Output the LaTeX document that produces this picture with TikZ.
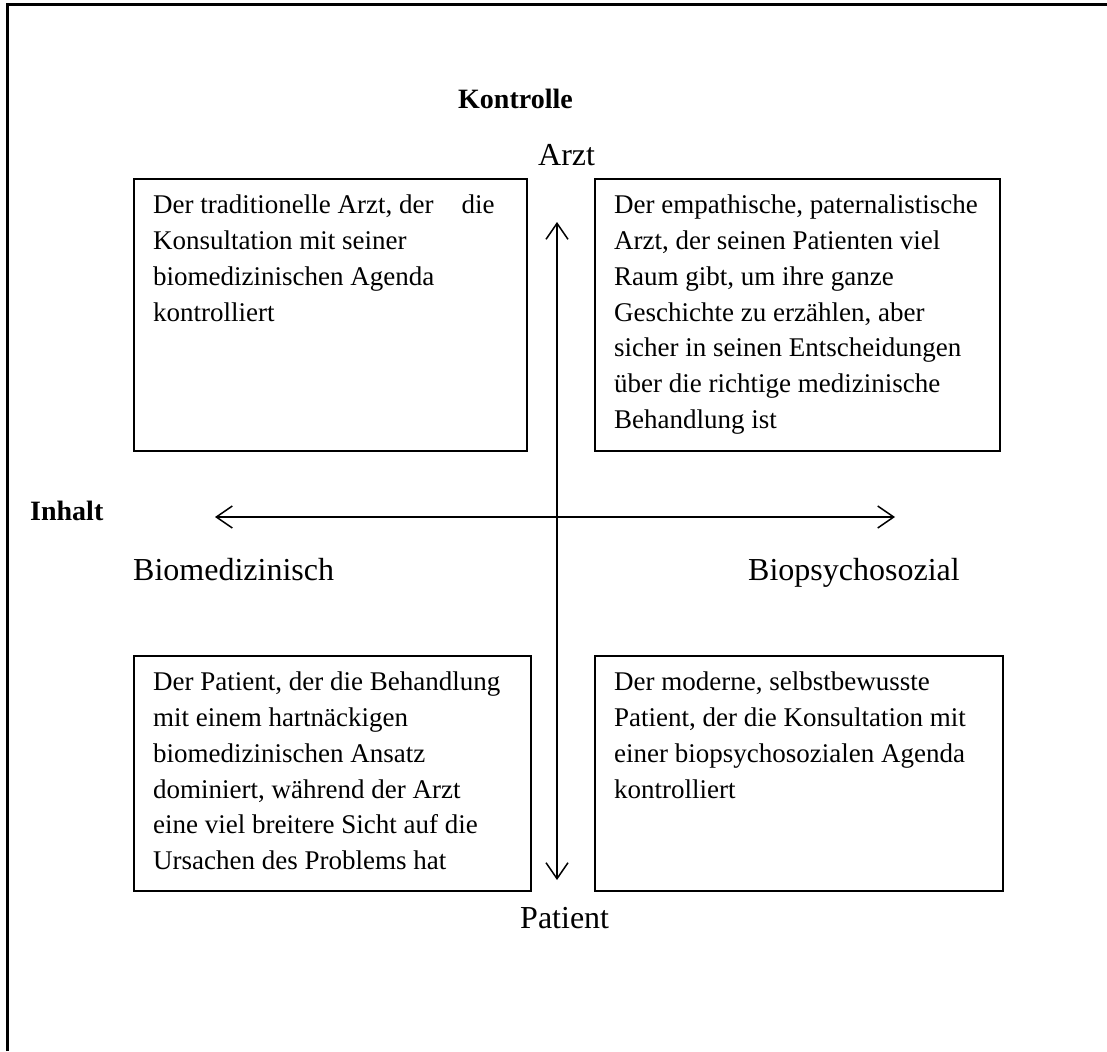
\documentclass[tikz,border=0pt]{standalone}
\usepackage{fontspec}
\setmainfont{Liberation Serif}
\usetikzlibrary{arrows.meta}
\begin{document}
\begin{tikzpicture}[x=1pt,y=-1pt,
  box/.style={draw, line width=2pt, anchor=north west, inner sep=0pt},
  boxtext/.style={anchor=north west, inner sep=0pt, align=left, font=\fontsize{27}{35.7}\selectfont},
  lbl/.style={anchor=base west, inner sep=0pt, font=\fontsize{32}{38}\selectfont},
  blbl/.style={anchor=base west, inner sep=0pt, font=\fontsize{28}{34}\selectfont\bfseries},
  axis/.style={line width=1.5pt, {Straight Barb[length=16pt,width=22pt]}-{Straight Barb[length=16pt,width=22pt]}},
  frame/.style={line width=3pt}]
\useasboundingbox (0,0) rectangle (1107,1051);
% frame
\coordinate (f1) at (7,1051);
\coordinate (f2) at (7,5);
\coordinate (f3) at (1107,5);
\draw[frame] (f1) -- (f2) -- (f3);
% boxes
\node[box, minimum width=393pt, minimum height=272pt] (tl) at (133,178) {};
\node[box, minimum width=405pt, minimum height=272pt] (tr) at (594,178) {};
\node[box, minimum width=397pt, minimum height=235pt] (bl) at (133,655) {};
\node[box, minimum width=408pt, minimum height=235pt] (br) at (594,655) {};
% box texts
\node[boxtext] (tlt) at (153,195) {Der traditionelle Arzt, der\hspace{28pt}die\\Konsultation mit seiner\\biomedizinischen Agenda\\kontrolliert};
\node[boxtext] (trt) at (614,195) {Der empathische, paternalistische\\Arzt, der seinen Patienten viel\\Raum gibt, um ihre ganze\\Geschichte zu erzählen, aber\\sicher in seinen Entscheidungen\\über die richtige medizinische\\Behandlung ist};
\node[boxtext] (blt) at (153,672) {Der Patient, der die Behandlung\\mit einem hartnäckigen\\biomedizinischen Ansatz\\dominiert, während der Arzt\\eine viel breitere Sicht auf die\\Ursachen des Problems hat};
\node[boxtext] (brt) at (614,672) {Der moderne, selbstbewusste\\Patient, der die Konsultation mit\\einer biopsychosozialen Agenda\\kontrolliert};
% labels
\node[blbl] (kon) at (458,109) {Kontrolle};
\node[lbl] (arzt) at (538,165) {Arzt};
\node[blbl] (inh) at (30,520) {Inhalt};
\node[lbl] (bio) at (133,580) {Biomedizinisch};
\node[lbl] (bps) at (748,580) {Biopsychosozial};
\node[lbl] (pat) at (520,928) {Patient};
% axes
\coordinate (vt) at (557,222);
\coordinate (vb) at (557,880);
\coordinate (hl) at (215,517);
\coordinate (hr) at (895,517);
\draw[axis] (vb) -- (vt);
\draw[axis] (hl) -- (hr);
\end{tikzpicture}
\end{document}
